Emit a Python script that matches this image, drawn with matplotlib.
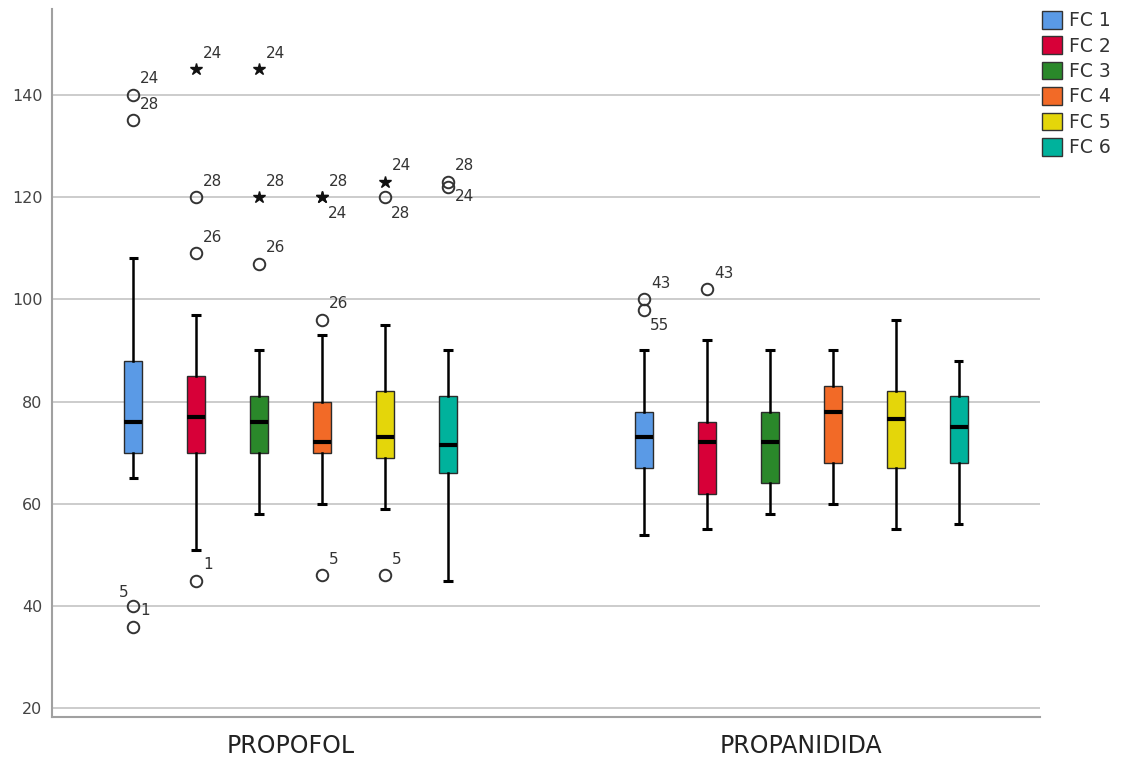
import matplotlib
matplotlib.use("Agg")
import matplotlib.pyplot as plt
from matplotlib.patches import Patch

plt.rcParams['font.family'] = ['DejaVu Sans']

# ---------------- data ----------------
groups = ["PROPOFOL", "PROPANIDIDA"]
series = ["FC 1", "FC 2", "FC 3", "FC 4", "FC 5", "FC 6"]
colors = ["#5a9ae6", "#d70038", "#2a882a", "#f26a27", "#e4d60a", "#00b29c"]

propofol_whislo = [65, 51, 58, 60, 59, 45]
propofol_q1 = [70, 70, 70, 70, 69, 66]
propofol_med = [76, 77, 76, 72, 73, 71.5]
propofol_q3 = [88, 85, 81, 80, 82, 81]
propofol_whishi = [108, 97, 90, 93, 95, 90]

propanidida_whislo = [54, 55, 58, 60, 55, 56]
propanidida_q1 = [67, 62, 64, 68, 67, 68]
propanidida_med = [73, 72, 72, 78, 76.5, 75]
propanidida_q3 = [78, 76, 78, 83, 82, 81]
propanidida_whishi = [90, 92, 90, 90, 96, 88]

# outliers: group index, series index, value, case label, kind (o = outlier, * = extreme)
outlier_group = [0, 0, 0, 0,
                 0, 0, 0, 0,
                 0, 0, 0,
                 0, 0, 0, 0,
                 0, 0, 0,
                 0, 0,
                 1, 1, 1]
outlier_series = [0, 0, 0, 0,
                  1, 1, 1, 1,
                  2, 2, 2,
                  3, 3, 3, 3,
                  4, 4, 4,
                  5, 5,
                  0, 0, 1]
outlier_value = [140, 135, 40, 36,
                 145, 120, 109, 45,
                 145, 120, 107,
                 120, 120, 96, 46,
                 123, 120, 46,
                 123, 122,
                 100, 98, 102]
outlier_label = ["24", "28", "5", "1",
                 "24", "28", "26", "1",
                 "24", "28", "26",
                 "28", "24", "26", "5",
                 "24", "28", "5",
                 "28", "24",
                 "43", "55", "43"]
outlier_kind = ["o", "o", "o", "o",
                "*", "o", "o", "o",
                "*", "*", "o",
                "*", "*", "o", "o",
                "*", "o", "o",
                "o", "o",
                "o", "o", "o"]
label_place = ["ur", "ur", "ul", "ur",
               "ur", "ur", "ur", "ur",
               "ur", "ur", "ur",
               "ur", "dr", "ur", "ur",
               "ur", "dr", "ur",
               "ur", "r",
               "ur", "dr", "ur"]

# ---------------- layout ----------------
W, H = 1121, 758
fig = plt.figure(figsize=(W / 100, H / 100), dpi=100)
ax = fig.add_axes([52 / W, 1 - 717 / H, (1040 - 52) / W, (717 - 9) / H])

step = 0.1233
box_w = 0.034
cap_w = 0.018

all_stats = [
    (propofol_whislo, propofol_q1, propofol_med, propofol_q3, propofol_whishi),
    (propanidida_whislo, propanidida_q1, propanidida_med, propanidida_q3, propanidida_whishi),
]

def xpos(g, s):
    return g + (s - (len(series) - 1) / 2) * step

for g, (wl, q1, md, q3, wh) in enumerate(all_stats):
    for s in range(len(series)):
        st = [dict(whislo=wl[s], q1=q1[s], med=md[s], q3=q3[s], whishi=wh[s], fliers=[])]
        ax.bxp(st, positions=[xpos(g, s)], widths=box_w, capwidths=cap_w,
               patch_artist=True, showfliers=False, manage_ticks=False,
               boxprops=dict(facecolor=colors[s], edgecolor="#2b2b2b", linewidth=1.0),
               whiskerprops=dict(color="black", linewidth=1.8),
               capprops=dict(color="black", linewidth=2.2, solid_capstyle="butt"),
               medianprops=dict(color="black", linewidth=3.0, solid_capstyle="butt"),
               zorder=3)

offsets = {"ur": (7, 16, "left"), "dr": (6, -16, "left"), "ul": (-5, 14, "right"),
           "r": (7, -10, "left")}

for g, s, v, lab, kind, pl in zip(outlier_group, outlier_series, outlier_value,
                                  outlier_label, outlier_kind, label_place):
    x = xpos(g, s)
    if kind == "o":
        ax.plot([x], [v], marker="o", markersize=8.3, markerfacecolor="none",
                markeredgecolor="#333333", markeredgewidth=1.4, linestyle="none", zorder=4)
    else:
        ax.plot([x], [v], marker="*", markersize=9, color="#111111",
                linestyle="none", zorder=4)
    dx, dy, ha = offsets[pl]
    ax.annotate(lab, (x, v), xytext=(dx, dy), textcoords="offset pixels",
                ha=ha, va="center", fontsize=11, color="#333333", zorder=5)

ax.set_xlim(-0.467, 1.467)
ax.set_ylim(18.3, 156.8)
ax.set_yticks([20, 40, 60, 80, 100, 120, 140])
ax.set_xticks([0, 1])
ax.set_xticklabels(groups, fontsize=17, color="#222222")
ax.tick_params(axis="x", length=0, pad=12)
ax.tick_params(axis="y", length=0, pad=7, labelsize=11.5, labelcolor="#444444")

ax.grid(axis="y", color="#c8c8c8", linewidth=1.3, zorder=0)
ax.set_axisbelow(True)
for side in ["top", "right"]:
    ax.spines[side].set_visible(False)
for side in ["left", "bottom"]:
    ax.spines[side].set_color("#a0a0a0")
    ax.spines[side].set_linewidth(1.5)

handles = [Patch(facecolor=c, edgecolor="#333333", linewidth=1.0, label=l)
           for c, l in zip(colors, series)]
fig.legend(handles=handles, loc="upper left", bbox_to_anchor=(1042 / W, 1 - 11 / H),
           frameon=False, fontsize=13.5, handlelength=1.07, handleheight=1.07,
           labelspacing=0.33, handletextpad=0.35, borderpad=0, borderaxespad=0,
           labelcolor="#333333")

fig.savefig("out.png", dpi=100)
